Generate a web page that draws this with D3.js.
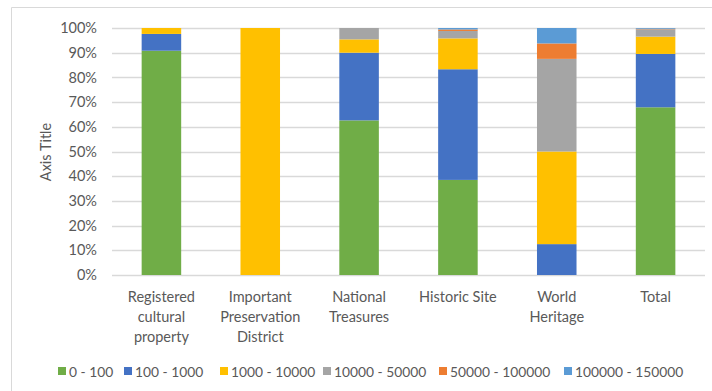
<!DOCTYPE html>
<html>
<head>
<meta charset="utf-8">
<script src="https://cdn.jsdelivr.net/npm/d3@7/dist/d3.min.js"></script>
<style>
  html, body { margin: 0; padding: 0; background: #fff; }
  svg { display: block; font-family: Lato, "Open Sans", sans-serif; }
</style>
</head>
<body>
<svg id="chart" width="712" height="391"></svg>
<script>
// Categories along the x axis (multi-line labels)
const categories = [
  "Registered cultural property",
  "Important Preservation District",
  "National Treasures",
  "Historic Site",
  "World Heritage",
  "Total"
];
const categoryLines = [
  ["Registered", "cultural", "property"],
  ["Important", "Preservation", "District"],
  ["National", "Treasures"],
  ["Historic Site"],
  ["World", "Heritage"],
  ["Total"]
];

// Series: share (%) of each range within each category
const seriesNames = ["0 - 100", "100 - 1000", "1000 - 10000", "10000 - 50000", "50000 - 100000", "100000 - 150000"];
const s0_100        = [90.8,   0, 62.6, 38.5,  0,    67.9];
const s100_1000     = [ 6.8,   0, 27.4, 44.8, 12.5,  21.6];
const s1000_10000   = [ 2.4, 100,  5.4, 12.5, 37.5,   7.0];
const s10000_50000  = [ 0,     0,  4.6,  3.0, 37.5,   3.0];
const s50000_100000 = [ 0,     0,  0,    0.6,  6.25,  0.2];
const s100000_150000= [ 0,     0,  0,    0.6,  6.25,  0.3];
const seriesValues = [s0_100, s100_1000, s1000_10000, s10000_50000, s50000_100000, s100000_150000];
const seriesColors = ["#70AD47", "#4472C4", "#FFC000", "#A5A5A5", "#ED7D31", "#5B9BD5"];

const yTicks = [0, 10, 20, 30, 40, 50, 60, 70, 80, 90, 100];

const svg = d3.select("#chart");
const textColor = "#595959";
const gridColor = "#D9D9D9";

// chart frame
svg.append("path")
  .attr("d", "M11.5,391 L11.5,7.5 L712,7.5")
  .attr("fill", "none")
  .attr("stroke", gridColor)
  .attr("stroke-width", 1);

const plot = { left: 112, right: 705, top: 28, bottom: 275 };

const x = d3.scaleBand()
  .domain(categories)
  .range([plot.left, plot.right])
  .paddingInner(0.6)
  .paddingOuter(0.3);

const y = d3.scaleLinear()
  .domain([0, 100])
  .range([plot.bottom, plot.top]);

// gridlines
svg.append("g")
  .selectAll("line")
  .data(yTicks)
  .join("line")
  .attr("x1", plot.left)
  .attr("x2", plot.right)
  .attr("y1", d => Math.round(y(d)) + 0.5)
  .attr("y2", d => Math.round(y(d)) + 0.5)
  .attr("stroke", gridColor)
  .attr("stroke-width", 1.3);

// y axis labels
const yAxis = d3.axisLeft(y).tickValues(yTicks).tickFormat(d => d + "%").tickSize(0).tickPadding(0);
const yg = svg.append("g")
  .attr("transform", `translate(97,0)`)
  .call(yAxis);
yg.select(".domain").remove();
yg.selectAll("text")
  .attr("fill", textColor)
  .attr("font-size", "14.5px")
  .attr("font-family", "Lato, sans-serif");

// stacked bars
const rows = categories.map((c, i) => {
  const r = { category: c };
  seriesNames.forEach((s, j) => { r[s] = seriesValues[j][i]; });
  return r;
});
const stack = d3.stack().keys(seriesNames);
const layers = stack(rows);

svg.append("g")
  .selectAll("g")
  .data(layers)
  .join("g")
  .attr("fill", (d, i) => seriesColors[i])
  .selectAll("rect")
  .data(d => d)
  .join("rect")
  .attr("x", d => x(d.data.category))
  .attr("width", x.bandwidth())
  .attr("y", d => y(d[1]))
  .attr("height", d => Math.max(0, y(d[0]) - y(d[1])));

// x category labels
const xl = svg.append("g");
categories.forEach((c, i) => {
  const cx = x(c) + x.bandwidth() / 2;
  const t = xl.append("text")
    .attr("x", cx)
    .attr("y", 302)
    .attr("text-anchor", "middle")
    .attr("fill", textColor)
    .attr("font-size", "14.5px");
  categoryLines[i].forEach((line, k) => {
    t.append("tspan").attr("x", cx).attr("dy", k === 0 ? 0 : 20).text(line);
  });
});

// y axis title
svg.append("text")
  .attr("transform", "translate(51,152) rotate(-90)")
  .attr("text-anchor", "middle")
  .attr("fill", textColor)
  .attr("font-size", "14.5px")
  .text("Axis Title");

// legend
const legendX = [58, 124, 220, 323, 439, 564];
const lg = svg.append("g");
seriesNames.forEach((s, i) => {
  lg.append("rect")
    .attr("x", legendX[i])
    .attr("y", 367)
    .attr("width", 8)
    .attr("height", 8)
    .attr("fill", seriesColors[i]);
  lg.append("text")
    .attr("x", legendX[i] + 11)
    .attr("y", 376.5)
    .attr("fill", textColor)
    .attr("font-size", "13.8px")
    .text(s);
});
</script>
</body>
</html>
